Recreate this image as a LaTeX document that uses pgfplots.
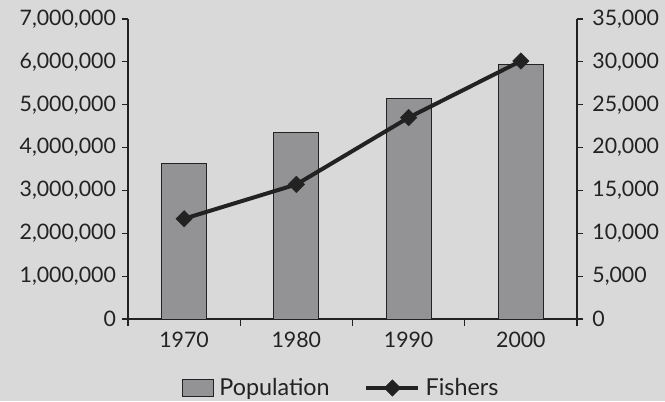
\documentclass[border=0pt]{standalone}
\usepackage{pgfplots}
\pgfplotsset{compat=1.18}
\usepackage{fontspec}
\setmainfont{Lato}

\definecolor{bg}{HTML}{D9D9D9}
\definecolor{bargray}{HTML}{939396}
\definecolor{ink}{HTML}{222222}

\pgfplotsset{
    midmark legend/.style={legend image code/.code={
        \draw[mark repeat=2, mark phase=2, ##1] plot coordinates {(0pt,0pt) (19.5pt,0pt) (39pt,0pt)};}},
}

\begin{document}
\begin{tikzpicture}[x=1pt,y=1pt]
\fill[bg] (-96,-61.5) rectangle (402.75,239.25);
\useasboundingbox (-96,-61.5) rectangle (402.75,239.25);

% population bars, left axis
\begin{axis}[
    at={(0,0)}, anchor=south west,
    width=336.75pt, height=225pt, scale only axis,
    xmin=-0.5, xmax=3.5,
    ymin=0, ymax=7000000,
    axis x line*=bottom, axis y line*=left,
    axis line style={ink, line width=0.9pt},
    tick align=outside,
    xtick={0,1,2,3},
    xticklabels={1970,1980,1990,2000},
    minor xtick={-0.5,0.5,1.5,2.5,3.5},
    major x tick style={draw=none},
    minor x tick style={ink, line width=0.9pt},
    minor tick length=5.5pt,
    major tick length=4.5pt,
    y tick style={ink, line width=0.9pt},
    ytick={0,1000000,...,7000000},
    scaled y ticks=false,
    /pgf/number format/.cd, fixed, 1000 sep={,}, assume math mode=true,
    /pgfplots/.cd,
    tick label style={font=\fontsize{16}{18}\selectfont, text=ink},
    xticklabel style={yshift=-2pt},
    yticklabel style={xshift=-1pt},
    ybar, bar width=33.75pt,
    clip=false,
]
\addplot[draw=ink, fill=bargray, line width=0.75pt] coordinates {
    (0,3620000) (1,4360000) (2,5140000) (3,5930000)
};
\end{axis}

% fishers line, right axis
\begin{axis}[
    at={(0,0)}, anchor=south west,
    width=336.75pt, height=225pt, scale only axis,
    xmin=-0.5, xmax=3.5,
    ymin=0, ymax=35000,
    axis x line=none, axis y line*=right,
    axis line style={ink, line width=0.9pt},
    tick align=outside,
    major tick length=4.5pt,
    y tick style={ink, line width=0.9pt},
    ytick={0,5000,...,35000},
    scaled y ticks=false,
    /pgf/number format/.cd, fixed, 1000 sep={,}, assume math mode=true,
    /pgfplots/.cd,
    tick label style={font=\fontsize{16}{18}\selectfont, text=ink},
    yticklabel style={xshift=3.5pt},
    clip=false,
    legend columns=2,
    legend style={at={(axis description cs:0.479,-0.23)}, anchor=center,
        draw=none, fill=none, font=\fontsize{17.5}{20}\selectfont, text=ink,
        /tikz/every even column/.append style={column sep=22pt},
        /tikz/every node/.append style={inner xsep=4pt}},
]
\addlegendimage{legend image code/.code={
    \draw[draw=ink, fill=bargray, line width=0.75pt] (0pt,-6pt) rectangle (23pt,6.5pt);}}
\addlegendentry{Population}
\addplot[color=ink, line width=3pt, mark=square*, mark size=4.4pt,
    mark options={rotate=45, line width=0.3pt}, midmark legend]
    coordinates {(0,11700) (1,15700) (2,23500) (3,30100)};
\addlegendentry{Fishers}
\end{axis}
\end{tikzpicture}
\end{document}
